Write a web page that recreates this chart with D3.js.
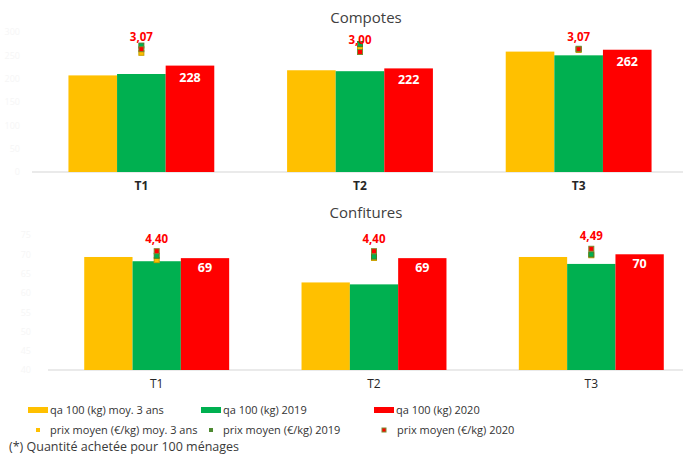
<!DOCTYPE html>
<html>
<head>
<meta charset="utf-8">
<script src="https://cdn.jsdelivr.net/npm/d3@7"></script>
<style>
  body { margin: 0; background: #fff; }
  svg { font-family: "Open Sans", sans-serif; }
</style>
</head>
<body>
<div class="canvas"></div>
<script>
const dims = { width: 683, height: 462 };

// data
const periods = ['T1', 'T2', 'T3'];
const seriesNames = ['qa 100 (kg) moy. 3 ans', 'qa 100 (kg) 2019', 'qa 100 (kg) 2020'];
const priceNames = ['prix moyen (€/kg) moy. 3 ans', 'prix moyen (€/kg) 2019', 'prix moyen (€/kg) 2020'];
const colours = ['#FFC000', '#00B050', '#FF0000'];

const compotesQa = [[207, 218, 258], [210, 216, 250], [228, 222, 262]];
const compotesPrix = [[2.98, 3.06, 3.05], [3.16, 3.20, 3.08], [3.07, 3.00, 3.07]];
const compotesTicks = [0, 50, 100, 150, 200, 250, 300];

const confQa = [[69.3, 62.7, 69.3], [68.2, 62.2, 67.5], [69, 69, 70]];
const confPrix = [[4.07, 4.15, 4.25], [4.23, 4.20, 4.28], [4.40, 4.40, 4.49]];
const confTicks = [40, 45, 50, 55, 60, 65, 70, 75];

const fmt = v => v.toFixed(2).replace('.', ',');

const svg = d3.select('.canvas')
    .append('svg')
    .attr('width', dims.width)
    .attr('height', dims.height);

const drawPanel = (opt) => {
    const x = d3.scaleBand()
        .domain(periods)
        .range(opt.xRange)
        .paddingInner(0.333)
        .paddingOuter(0.1667);

    const xs = d3.scaleBand()
        .domain([0, 1, 2])
        .range([0, x.bandwidth()]);

    const y = d3.scaleLinear().domain(opt.yDomain).range([opt.bottom, opt.top]);
    const y2 = d3.scaleLinear().domain(opt.y2Domain).range([opt.bottom, opt.top]);

    const g = svg.append('g');

    // title
    g.append('text')
        .attr('x', opt.titleX)
        .attr('y', opt.titleY)
        .attr('text-anchor', 'middle')
        .attr('font-size', 15)
        .attr('fill', '#404040')
        .text(opt.title);

    // faint y ticks (almost invisible in the original)
    g.append('g')
        .attr('transform', `translate(${opt.tickX}, 0)`)
        .call(d3.axisLeft(y).tickValues(opt.ticks).tickSize(0))
        .call(a => a.select('.domain').remove())
        .call(a => a.selectAll('text')
            .attr('fill', '#f6f6f6')
            .attr('font-size', 9)
            .attr('font-family', '"Open Sans", sans-serif'));

    // baseline
    g.append('line')
        .attr('x1', opt.xRange[0]).attr('x2', dims.width)
        .attr('y1', opt.bottom).attr('y2', opt.bottom)
        .attr('stroke', '#e3e3e3')
        .attr('stroke-width', 1.5);

    // bars
    opt.qa.forEach((vals, s) => {
        g.selectAll('.bar' + s)
            .data(vals)
            .enter()
            .append('rect')
            .attr('x', (d, i) => x(periods[i]) + xs(s))
            .attr('y', d => y(d))
            .attr('width', xs.bandwidth())
            .attr('height', d => opt.bottom - y(d))
            .attr('fill', colours[s]);
    });

    // 2020 labels
    g.selectAll('.qaLabel')
        .data(opt.qa[2])
        .enter()
        .append('text')
        .attr('x', (d, i) => x(periods[i]) + xs(2) + xs.bandwidth() / 2)
        .attr('y', d => y(d) + opt.labelOffset)
        .attr('text-anchor', 'middle')
        .attr('font-size', 12.5)
        .attr('font-weight', 'bold')
        .attr('fill', '#fff')
        .text(d => opt.qaFmt(d));

    // price markers
    const markerStroke = ['#c8a000', '#4a7d2a', '#7a8a30'];
    opt.prix.forEach((vals, s) => {
        g.selectAll('.mk' + s)
            .data(vals)
            .enter()
            .append('rect')
            .attr('x', (d, i) => x(periods[i]) + x.bandwidth() / 2 - 2.5)
            .attr('y', d => y2(d) - 2.5)
            .attr('width', 5)
            .attr('height', 5)
            .attr('fill', colours[s])
            .attr('stroke', markerStroke[s])
            .attr('stroke-width', 1);
    });

    g.selectAll('.prixLabel')
        .data(opt.prix[2])
        .enter()
        .append('text')
        .attr('x', (d, i) => x(periods[i]) + x.bandwidth() / 2)
        .attr('y', d => y2(d) - 8.5)
        .attr('text-anchor', 'middle')
        .attr('font-size', 11.5)
        .attr('font-weight', 'bold')
        .attr('fill', '#FF0000')
        .text(d => fmt(d));

    // category labels
    g.selectAll('.cat')
        .data(periods)
        .enter()
        .append('text')
        .attr('x', d => x(d) + x.bandwidth() / 2)
        .attr('y', opt.bottom + 18)
        .attr('text-anchor', 'middle')
        .attr('font-size', 12)
        .attr('font-weight', opt.catBold ? 'bold' : 'normal')
        .attr('fill', '#262626')
        .text(d => d);
};

drawPanel({
    title: 'Compotes', titleX: 366, titleY: 23,
    xRange: [32, 688], top: 32, bottom: 172,
    yDomain: [0, 300], y2Domain: [0, 3.5], ticks: compotesTicks, tickX: 23,
    qa: compotesQa, prix: compotesPrix,
    labelOffset: 16, qaFmt: d => d3.format('d')(d), catBold: true
});

drawPanel({
    title: 'Confitures', titleX: 366, titleY: 218,
    xRange: [48, 700], top: 235, bottom: 370,
    yDomain: [40, 75], y2Domain: [0, 5], ticks: confTicks, tickX: 34,
    qa: confQa, prix: confPrix,
    labelOffset: 14, qaFmt: d => d3.format('d')(Math.round(d)), catBold: false
});

// legend
const legendX = [28, 201, 374];
const legend = svg.append('g').attr('font-size', 11).attr('fill', '#333');

seriesNames.forEach((name, i) => {
    legend.append('rect')
        .attr('x', legendX[i]).attr('y', 407)
        .attr('width', 20).attr('height', 6)
        .attr('fill', colours[i]);
    legend.append('text')
        .attr('x', legendX[i] + 22).attr('y', 414)
        .text(name);
});

const legendMk = [['#FFC000', 'none'], ['#4e8a32', 'none'], ['#FF0000', '#7a8a30']];
priceNames.forEach((name, i) => {
    legend.append('rect')
        .attr('x', legendX[i] + 8).attr('y', 428)
        .attr('width', 4).attr('height', 4)
        .attr('fill', legendMk[i][0])
        .attr('stroke', legendMk[i][1]);
    legend.append('text')
        .attr('x', legendX[i] + (i === 2 ? 23 : 22)).attr('y', 434)
        .text(name);
});

svg.append('text')
    .attr('x', 9).attr('y', 451)
    .attr('font-size', 12.5)
    .attr('fill', '#3a3a3a')
    .text('(*) Quantité achetée pour 100 ménages');
</script>
</body>
</html>
